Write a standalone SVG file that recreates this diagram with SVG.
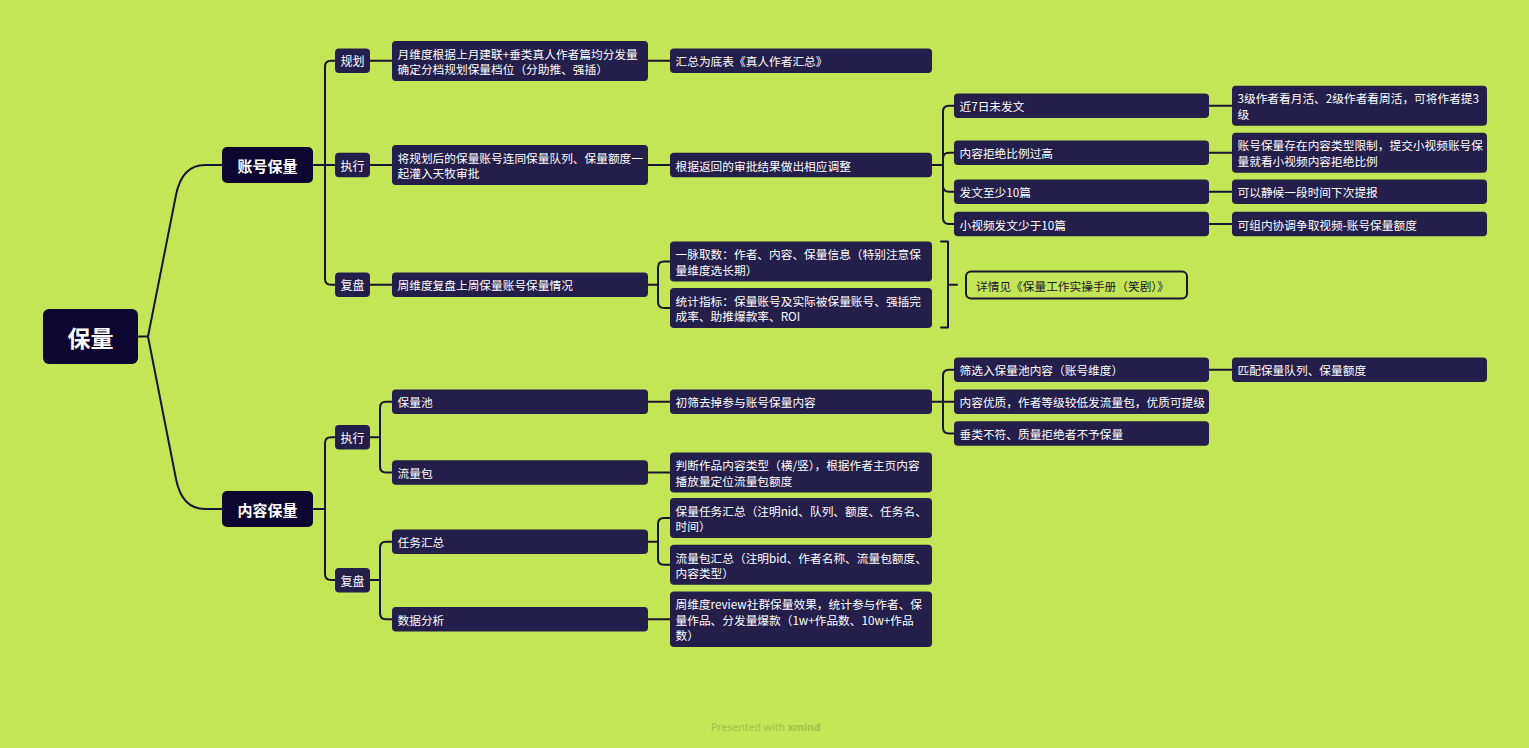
<svg xmlns="http://www.w3.org/2000/svg" width="1529" height="748" viewBox="0 0 1529 748">
<style>
.bg{fill:#c2e656}
.r{fill:#0c0630}
.n{fill:#241e4a}
.c{fill:none;stroke:#1b1535;stroke-width:2;stroke-linecap:round;stroke-linejoin:round}
text{font-family:"Noto Sans CJK SC","Noto Sans",sans-serif;dominant-baseline:central}
.t{fill:#ffffff;font-size:11.7px}
.tc{fill:#ffffff;font-size:12px;text-anchor:middle}
.t1{fill:#ffffff;font-size:15px;font-weight:600;text-anchor:middle}
.t0{fill:#ffffff;font-size:23px;font-weight:bold;text-anchor:middle}
.sum{fill:none;stroke:#1b1535;stroke-width:2}
.ts{fill:#1b1535;font-size:11.7px}
.wm{fill:#a2c24c;font-size:10.5px;font-family:"Noto Sans",sans-serif}
</style>
<rect class="bg" x="0" y="0" width="1529" height="748"/>
<g id="connectors">
<path class="c" d="M138,336.5 H148 L176,195 Q182,165 205,165 H222"/>
<path class="c" d="M148,336.5 L176,479 Q182,509 205,509 H222"/>
<path class="c" d="M313,165 H335 M335,60.7 H331 Q325,60.7 325,66.7 V278.7 Q325,284.7 331,284.7 H335"/>
<path class="c" d="M313,509 H325 M335,437.2 H331 Q325,437.2 325,443.2 V574 Q325,580 331,580 H335"/>
<path class="c" d="M370,60.7 H392 M370,165 H392 M370,284.7 H392"/>
<path class="c" d="M370,437.2 H380 M392,401.7 H386 Q380,401.7 380,407.7 V466.5 Q380,472.5 386,472.5 H392"/>
<path class="c" d="M370,580 H380 M392,541.7 H386 Q380,541.7 380,547.7 V613.2 Q380,619.2 386,619.2 H392"/>
<path class="c" d="M648,60.7 H670 M648,165 H670 M648,401.7 H670 M648,472.5 H670 M648,619.2 H670"/>
<path class="c" d="M648,284.7 H658 M670,261.5 H664 Q658,261.5 658,267.5 V302 Q658,308 664,308 H670"/>
<path class="c" d="M648,541.7 H658 M670,518 H664 Q658,518 658,524 V558.8 Q658,564.8 664,564.8 H670"/>
<path class="c" d="M932,165 H943 M943,111.7 V218 M943,111.7 Q943,105.7 949,105.7 H954 M943,158.7 Q943,152.7 949,152.7 H954 M943,185.7 Q943,191.7 949,191.7 H954 M943,218 Q943,224 949,224 H954"/>
<path class="c" d="M932,401.7 H954 M943,375.7 V427.5 M943,375.7 Q943,369.7 949,369.7 H954 M943,427.5 Q943,433.5 949,433.5 H954"/>
<path class="c" d="M1209,105.7 H1232 M1209,152.7 H1232 M1209,191.7 H1232 M1209,224 H1232 M1209,369.7 H1232"/>
<path class="c" d="M941,241.5 H948 V327.5 H941 M948,284.7 H957"/>
</g>
<g id="root"><rect class="r" x="43" y="309" width="95" height="55" rx="6"/><text class="t0" x="90.5" y="336.5">保量</text></g>
<g id="n-zhanghao"><rect class="r" x="222" y="147" width="91" height="36" rx="5"/><text class="t1" x="267.5" y="165">账号保量</text></g>
<g id="n-neirong"><rect class="r" x="222" y="491" width="91" height="36" rx="5"/><text class="t1" x="267.5" y="509">内容保量</text></g>
<g id="n-guihua"><rect class="n" x="335" y="48.5" width="35" height="24.5" rx="4"/><text class="tc" x="352.5" y="60.7">规划</text></g>
<g id="n-zhixing1"><rect class="n" x="335" y="152.7" width="35" height="24.5" rx="4"/><text class="tc" x="352.5" y="165">执行</text></g>
<g id="n-fupan1"><rect class="n" x="335" y="272.5" width="35" height="24.5" rx="4"/><text class="tc" x="352.5" y="284.7">复盘</text></g>
<g id="n-zhixing2"><rect class="n" x="335" y="425" width="35" height="24.5" rx="4"/><text class="tc" x="352.5" y="437.2">执行</text></g>
<g id="n-fupan2"><rect class="n" x="335" y="568" width="35" height="24.5" rx="4"/><text class="tc" x="352.5" y="580">复盘</text></g>
<g id="a1"><rect class="n" x="392" y="41" width="256" height="40" rx="4"/><text class="t" x="397.5" y="53.2">月维度根据上月建联+垂类真人作者篇均分发量</text><text class="t" x="397.5" y="68.7">确定分档规划保量档位（分助推、强插）</text></g>
<g id="a2"><rect class="n" x="392" y="145" width="256" height="40" rx="4"/><text class="t" x="397.5" y="157.2">将规划后的保量账号连同保量队列、保量额度一</text><text class="t" x="397.5" y="172.7">起灌入天牧审批</text></g>
<g id="a3"><rect class="n" x="392" y="272.5" width="256" height="24.5" rx="4"/><text class="t" x="397.5" y="284.7">周维度复盘上周保量账号保量情况</text></g>
<g id="a4"><rect class="n" x="392" y="389.5" width="256" height="24.5" rx="4"/><text class="t" x="397.5" y="401.7">保量池</text></g>
<g id="a5"><rect class="n" x="392" y="460.3" width="256" height="24.5" rx="4"/><text class="t" x="397.5" y="472.5">流量包</text></g>
<g id="a6"><rect class="n" x="392" y="529.5" width="256" height="24.5" rx="4"/><text class="t" x="397.5" y="541.7">任务汇总</text></g>
<g id="a7"><rect class="n" x="392" y="607" width="256" height="24.5" rx="4"/><text class="t" x="397.5" y="619.2">数据分析</text></g>
<g id="b1"><rect class="n" x="670" y="48.5" width="262" height="24.5" rx="4"/><text class="t" x="675.5" y="60.7">汇总为底表《真人作者汇总》</text></g>
<g id="b2"><rect class="n" x="670" y="152.7" width="262" height="24.5" rx="4"/><text class="t" x="675.5" y="165">根据返回的审批结果做出相应调整</text></g>
<g id="b3"><rect class="n" x="670" y="241.5" width="262" height="40" rx="4"/><text class="t" x="675.5" y="253.7">一脉取数：作者、内容、保量信息（特别注意保</text><text class="t" x="675.5" y="269.2">量维度选长期）</text></g>
<g id="b4"><rect class="n" x="670" y="288" width="262" height="40" rx="4"/><text class="t" x="675.5" y="300.2">统计指标：保量账号及实际被保量账号、强插完</text><text class="t" x="675.5" y="315.7">成率、助推爆款率、ROI</text></g>
<g id="b5"><rect class="n" x="670" y="389.5" width="262" height="24.5" rx="4"/><text class="t" x="675.5" y="401.7">初筛去掉参与账号保量内容</text></g>
<g id="b6"><rect class="n" x="670" y="452.5" width="262" height="40" rx="4"/><text class="t" x="675.5" y="464.7">判断作品内容类型（横/竖），根据作者主页内容</text><text class="t" x="675.5" y="480.2">播放量定位流量包额度</text></g>
<g id="b7"><rect class="n" x="670" y="498" width="262" height="40" rx="4"/><text class="t" x="675.5" y="510.2">保量任务汇总（注明nid、队列、额度、任务名、</text><text class="t" x="675.5" y="525.7">时间）</text></g>
<g id="b8"><rect class="n" x="670" y="544.8" width="262" height="40" rx="4"/><text class="t" x="675.5" y="557">流量包汇总（注明bid、作者名称、流量包额度、</text><text class="t" x="675.5" y="572.5">内容类型）</text></g>
<g id="b9"><rect class="n" x="670" y="591.5" width="262" height="55.5" rx="4"/><text class="t" x="675.5" y="603.7">周维度review社群保量效果，统计参与作者、保</text><text class="t" x="675.5" y="619.2">量作品、分发量爆款（1w+作品数、10w+作品</text><text class="t" x="675.5" y="634.7">数）</text></g>
<g id="c1"><rect class="n" x="954" y="93.5" width="255" height="24.5" rx="4"/><text class="t" x="959.5" y="105.7">近7日未发文</text></g>
<g id="c2"><rect class="n" x="954" y="140.5" width="255" height="24.5" rx="4"/><text class="t" x="959.5" y="152.7">内容拒绝比例过高</text></g>
<g id="c3"><rect class="n" x="954" y="179.5" width="255" height="24.5" rx="4"/><text class="t" x="959.5" y="191.7">发文至少10篇</text></g>
<g id="c4"><rect class="n" x="954" y="211.7" width="255" height="24.5" rx="4"/><text class="t" x="959.5" y="224">小视频发文少于10篇</text></g>
<g id="c5"><rect class="n" x="954" y="357.5" width="255" height="24.5" rx="4"/><text class="t" x="959.5" y="369.7">筛选入保量池内容（账号维度）</text></g>
<g id="c6"><rect class="n" x="954" y="389.5" width="255" height="24.5" rx="4"/><text class="t" x="959.5" y="401.7">内容优质，作者等级较低发流量包，优质可提级</text></g>
<g id="c7"><rect class="n" x="954" y="421.3" width="255" height="24.5" rx="4"/><text class="t" x="959.5" y="433.5">垂类不符、质量拒绝者不予保量</text></g>
<g id="d1"><rect class="n" x="1232" y="85.7" width="255" height="40" rx="4"/><text class="t" x="1237.5" y="97.9">3级作者看月活、2级作者看周活，可将作者提3</text><text class="t" x="1237.5" y="113.4">级</text></g>
<g id="d2"><rect class="n" x="1232" y="132.7" width="255" height="40" rx="4"/><text class="t" x="1237.5" y="144.9">账号保量存在内容类型限制，提交小视频账号保</text><text class="t" x="1237.5" y="160.4">量就看小视频内容拒绝比例</text></g>
<g id="d3"><rect class="n" x="1232" y="179.5" width="255" height="24.5" rx="4"/><text class="t" x="1237.5" y="191.7">可以静候一段时间下次提报</text></g>
<g id="d4"><rect class="n" x="1232" y="211.7" width="255" height="24.5" rx="4"/><text class="t" x="1237.5" y="224">可组内协调争取视频-账号保量额度</text></g>
<g id="d5"><rect class="n" x="1232" y="357.5" width="255" height="24.5" rx="4"/><text class="t" x="1237.5" y="369.7">匹配保量队列、保量额度</text></g>
<g id="summary"><rect class="sum" x="966" y="271.5" width="221" height="27" rx="5"/><text class="ts" x="976" y="285">详情见《保量工作实操手册（笑剧）》</text></g>
<g id="watermark"><text class="wm" x="711" y="727">Presented with <tspan font-weight="bold">xmind</tspan></text></g>
</svg>
